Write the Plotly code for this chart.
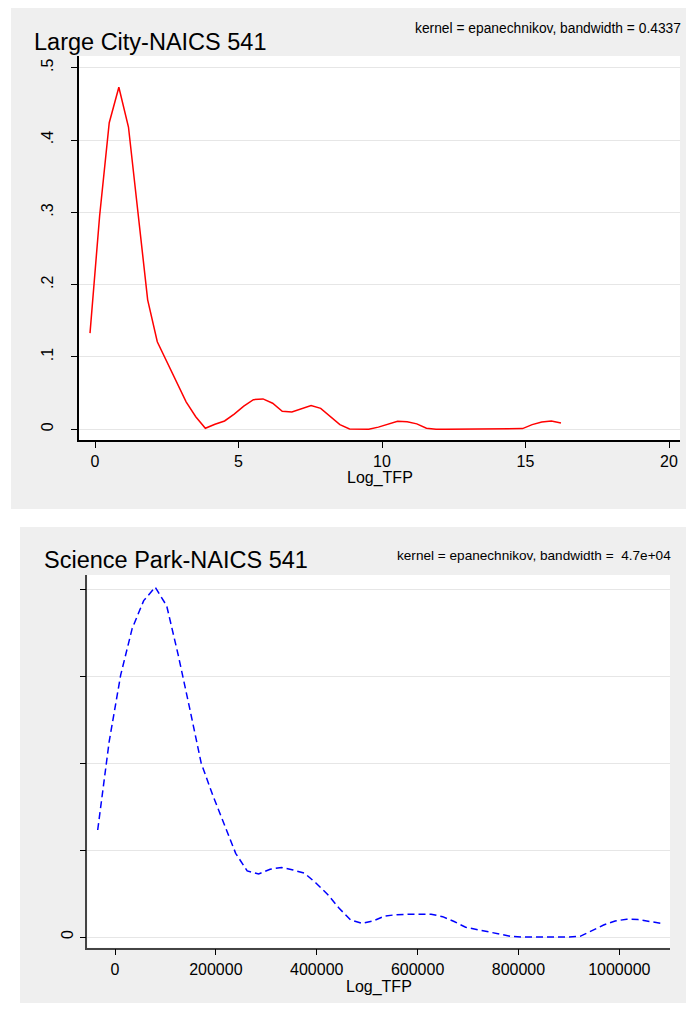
import plotly.graph_objects as go

W, H = 686, 1009

# ---- Top panel data: Large City-NAICS 541 (kernel density of Log_TFP) ----
city_x = [-0.174, 0.161, 0.496, 0.831, 1.166, 1.500, 1.835, 2.170, 2.505, 2.840,
          3.175, 3.510, 3.845, 4.180, 4.515, 4.850, 5.184, 5.519, 5.854, 6.189,
          6.524, 6.859, 7.194, 7.529, 7.864, 8.199, 8.533, 8.868, 9.203, 9.538,
          9.873, 10.208, 10.543, 10.878, 11.213, 11.548, 11.883, 12.217, 12.552, 12.887,
          13.222, 13.557, 13.892, 14.227, 14.562, 14.897, 15.232, 15.566, 15.901, 16.236]
city_y = [0.133, 0.295, 0.424, 0.473, 0.418, 0.296, 0.179, 0.121, 0.093, 0.066,
          0.038, 0.0174, 0.0014, 0.007, 0.0115, 0.021, 0.032, 0.041, 0.042, 0.036,
          0.025, 0.024, 0.029, 0.033, 0.029, 0.018, 0.0065, 0.0005, 0.0, 0.0,
          0.003, 0.0075, 0.0112, 0.0105, 0.0075, 0.0015, 0.0, 0.0, 0.0, 0.0,
          0.0, 0.0, 0.0, 0.0, 0.0, 0.001, 0.0065, 0.0102, 0.0115, 0.0088]
city_xticks = [0, 5, 10, 15, 20]
city_yticks = [0, 0.1, 0.2, 0.3, 0.4, 0.5]
city_ytext = ["0", ".1", ".2", ".3", ".4", ".5"]

# ---- Bottom panel data: Science Park-NAICS 541 ----
park_x = [-34300, -11500, 11300, 34100, 56900, 79700, 102500, 125300, 148100, 170900,
          193700, 216500, 239300, 262100, 284900, 307700, 330500, 353300, 376100, 398900,
          421700, 444500, 467300, 490100, 512900, 535700, 558500, 581300, 604100, 626900,
          649700, 672500, 695300, 718100, 740900, 763700, 786500, 809300, 832100, 854900,
          877700, 900500, 923300, 946100, 968900, 991700, 1014500, 1037300, 1060100, 1082900]
park_y_e6 = [1.231, 2.25, 3.015, 3.55, 3.87, 4.024, 3.81, 3.245, 2.63, 2.0,
             1.634, 1.308, 0.963, 0.76, 0.725, 0.78, 0.80, 0.77, 0.733, 0.618,
             0.49, 0.33, 0.196, 0.157, 0.188, 0.242, 0.257, 0.261, 0.265, 0.262,
             0.234, 0.178, 0.112, 0.085, 0.06, 0.03, 0.006, 0.0, 0.0, 0.0,
             0.0, 0.0, 0.01, 0.073, 0.138, 0.184, 0.205, 0.2, 0.18, 0.157]
park_y = [v * 1e-6 for v in park_y_e6]
park_xticks = [0, 200000, 400000, 600000, 800000, 1000000]
park_yticks = [0, 1e-6, 2e-6, 3e-6, 4e-6]
park_ytext = ["0", "", "", "", ""]

titles = ["Large City-NAICS 541", "Science Park-NAICS 541"]
notes = ["kernel = epanechnikov, bandwidth = 0.4337",
         "kernel = epanechnikov, bandwidth =&nbsp;&nbsp;4.7e+04"]
xtitle = "Log_TFP"

FONT = "Liberation Sans, Arial, Helvetica, sans-serif"
PANEL = "#efefef"
GRID = "#e6e6e6"

def px(x):
    return x / W

def py(y):
    return 1 - y / H

fig = go.Figure()
fig.add_trace(go.Scatter(x=city_x, y=city_y, mode="lines",
                         line=dict(color="#ff0000", width=1.5),
                         xaxis="x", yaxis="y", showlegend=False))
fig.add_trace(go.Scatter(x=park_x, y=park_y, mode="lines",
                         line=dict(color="#0000ff", width=1.5, dash="7px,4px"),
                         xaxis="x2", yaxis="y2", showlegend=False))

common_axis = dict(showline=True, ticks="outside", ticklen=6, tickwidth=1,
                   tickcolor="black", zeroline=False,
                   tickfont=dict(family=FONT, size=16, color="black"))

fig.update_layout(
    width=W, height=H,
    margin=dict(l=0, r=0, t=0, b=0),
    paper_bgcolor="white",
    plot_bgcolor="rgba(0,0,0,0)",
    showlegend=False,
    xaxis=dict(domain=[px(79), px(680)], range=[-0.5575, 20.383],
               tickvals=city_xticks, ticktext=[str(v) for v in city_xticks],
               showgrid=False, linecolor="black", linewidth=1.5,
               anchor="y", **common_axis),
    yaxis=dict(domain=[py(440), py(56)], range=[-0.0148, 0.5162],
               tickvals=city_yticks, ticktext=city_ytext, tickangle=-90,
               ticklabelstandoff=12,
               showgrid=True, gridcolor=GRID, gridwidth=1,
               linecolor="black", linewidth=1.5, anchor="x", **common_axis),
    xaxis2=dict(domain=[px(87.3), px(670)], range=[-54930, 1100540],
                tickvals=park_xticks, ticktext=[str(v) for v in park_xticks],
                showgrid=False, linecolor="#444444", linewidth=1.5,
                anchor="y2", **common_axis),
    yaxis2=dict(domain=[py(947.7), py(575)], range=[-0.1231e-6, 4.1645e-6],
                tickvals=park_yticks, ticktext=park_ytext, tickangle=-90,
                showgrid=True, gridcolor=GRID, gridwidth=1,
                linecolor="#444444", linewidth=1.5, anchor="x2", **common_axis),
)

shapes = [
    dict(type="rect", xref="paper", yref="paper", x0=px(11), x1=1.0,
         y0=py(509), y1=py(8), fillcolor=PANEL, line=dict(width=0), layer="below"),
    dict(type="rect", xref="paper", yref="paper", x0=px(20), x1=1.0,
         y0=py(1003), y1=py(527), fillcolor=PANEL, line=dict(width=0), layer="below"),
    dict(type="rect", xref="x domain", yref="y domain", x0=0, x1=1, y0=0, y1=1,
         fillcolor="white", line=dict(width=0), layer="below"),
    dict(type="rect", xref="x2 domain", yref="y2 domain", x0=0, x1=1, y0=0, y1=1,
         fillcolor="white", line=dict(width=0), layer="below"),
]
fig.update_layout(shapes=shapes)

ann = []
# panel titles
ann.append(dict(text=titles[0], x=px(32), y=py(42), xref="paper", yref="paper",
                xanchor="left", yanchor="middle", showarrow=False,
                font=dict(family=FONT, size=23.5, color="black")))
ann.append(dict(text=titles[1], x=px(41.5), y=py(560), xref="paper", yref="paper",
                xanchor="left", yanchor="middle", showarrow=False,
                font=dict(family=FONT, size=23.5, color="black")))
# notes
ann.append(dict(text=notes[0], x=px(683), y=py(28), xref="paper", yref="paper",
                xanchor="right", yanchor="middle", showarrow=False,
                font=dict(family=FONT, size=13.8, color="black")))
ann.append(dict(text=notes[1], x=px(673), y=py(555), xref="paper", yref="paper",
                xanchor="right", yanchor="middle", showarrow=False,
                font=dict(family=FONT, size=13.6, color="black")))
# axis titles
ann.append(dict(text=xtitle, x=0.5, y=py(478), xref="x domain", yref="paper",
                xanchor="center", yanchor="middle", showarrow=False,
                font=dict(family=FONT, size=16, color="black")))
ann.append(dict(text=xtitle, x=0.5, y=py(987), xref="x2 domain", yref="paper",
                xanchor="center", yanchor="middle", showarrow=False,
                font=dict(family=FONT, size=16, color="black")))
fig.update_layout(annotations=ann)

fig.write_html(
    "out.html",
    config={"displayModeBar": False},
    post_script="document.body.style.margin='0';document.body.style.padding='0';"
                "document.body.style.overflow='hidden';"
)
